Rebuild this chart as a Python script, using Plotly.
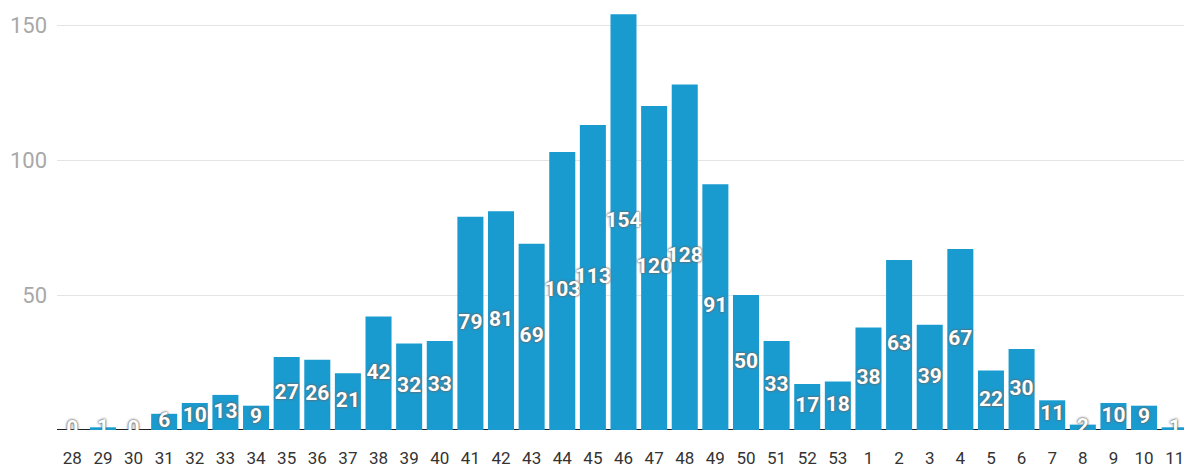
import plotly.graph_objects as go

weeks = ["28", "29", "30", "31", "32", "33", "34", "35", "36", "37", "38", "39", "40",
         "41", "42", "43", "44", "45", "46", "47", "48", "49", "50", "51", "52", "53",
         "1", "2", "3", "4", "5", "6", "7", "8", "9", "10", "11"]
counts = [0, 1, 0, 6, 10, 13, 9, 27, 26, 21, 42, 32, 33,
          79, 81, 69, 103, 113, 154, 120, 128, 91, 50, 33, 17, 18,
          38, 63, 39, 67, 22, 30, 11, 2, 10, 9, 1]
y_ticks = [50, 100, 150]

fig = go.Figure()
fig.add_trace(go.Bar(
    x=weeks, y=counts, marker=dict(color="#1a9bcf", line=dict(width=0)),
    hoverinfo="x+y", showlegend=False,
))
fig.add_trace(go.Scatter(
    x=weeks, y=[v / 2 for v in counts], mode="text",
    text=[str(v) for v in counts], textposition="middle center",
    textfont=dict(family="Roboto", size=21, color="white", weight="bold",
                  shadow="0px 0px 2px #555555, 0px 0px 3px #777777"),
    hoverinfo="skip", showlegend=False,
))
fig.update_layout(
    width=1184, height=461,
    margin=dict(l=49, r=2, t=0, b=39),
    paper_bgcolor="white", plot_bgcolor="white",
    bargap=0.15,
    font=dict(family="Roboto"),
    xaxis=dict(type="category", range=[-0.5, 36.5], showgrid=False,
               tickfont=dict(size=17, color="#333333"), ticks="",
               ticklabelstandoff=16,
               showline=False, zeroline=False),
    yaxis=dict(range=[0, 156.3], tickvals=y_ticks, showgrid=True,
               gridcolor="#e4e4e4", gridwidth=1,
               tickfont=dict(size=22, color="#a8a8a8"), ticklabelstandoff=9,
               zeroline=False, showline=False),
    shapes=[dict(type="line", xref="paper", yref="y", x0=0, x1=0.99, y0=0, y1=0,
                 line=dict(color="#222222", width=2), layer="below")],
)
fig.write_html("out.html")
